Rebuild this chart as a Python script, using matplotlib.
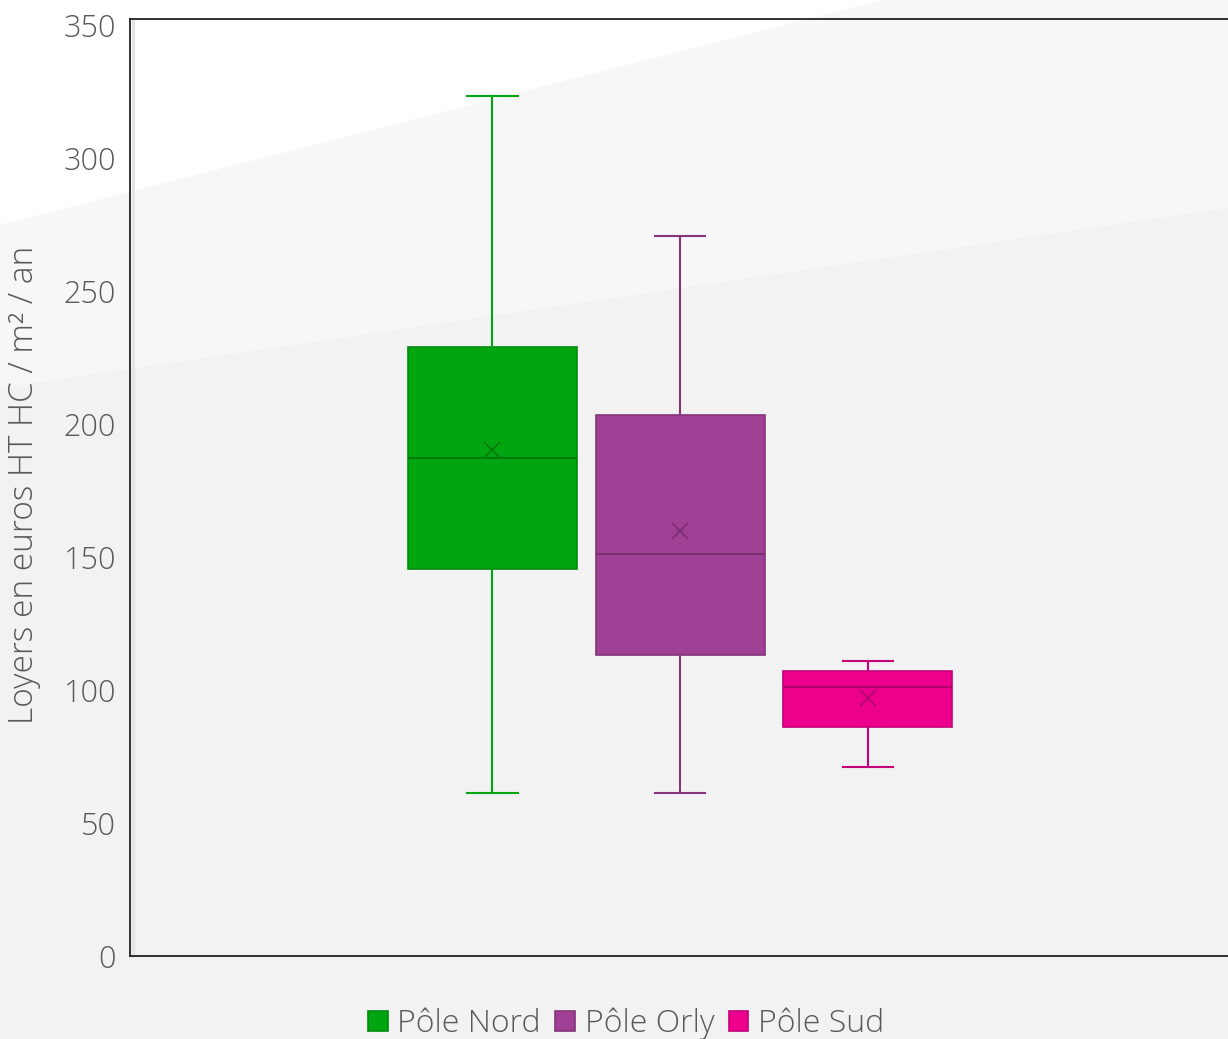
import matplotlib
matplotlib.use("Agg")
import matplotlib.pyplot as plt
from matplotlib.patches import Polygon, Patch
from matplotlib.lines import Line2D

# Summary statistics per site (euros HT HC / m² / an)
SITES = ["Pôle Nord", "Pôle Orly", "Pôle Sud"]
WHISKER_LOW = [61.3, 61.3, 71]
Q1 = [145.5, 113.2, 86.1]
MEDIAN = [187.2, 151.1, 101.1]
MEAN = [190.2, 159.8, 97]
Q3 = [229, 203.4, 107.1]
WHISKER_HIGH = [323.3, 270.7, 110.9]

FILL = ["#00a50f", "#a04095", "#ec008c"]
EDGE = ["#008a0c", "#84357b", "#c4007a"]
DARK = ["#007a0a", "#7a2f70", "#b0006c"]

Y_TICKS = [0, 50, 100, 150, 200, 250, 300, 350]
Y_LABEL = "Loyers en euros HT HC / m² / an"

plt.rcParams["font.family"] = ["Open Sans", "DejaVu Sans"]

fig = plt.figure(figsize=(12.28, 10.39), dpi=100)
fig.patch.set_facecolor("#f2f2f2")

# light diagonal bands behind the plot
W, H = 1228, 1039
def px(x, y):
    return (x / W, 1 - y / H)

fig.add_artist(Polygon([px(0, 388), px(1228, 208), px(1228, 0), px(0, 0)],
                       closed=True, transform=fig.transFigure,
                       facecolor="#f7f7f7", edgecolor="none", zorder=-2))
fig.add_artist(Polygon([px(0, 225), px(882, 0), px(0, 0)],
                       closed=True, transform=fig.transFigure,
                       facecolor="#ffffff", edgecolor="none", zorder=-1))

ax = fig.add_axes([130 / W, 83 / H, 1.01 - 130 / W, 937 / H])
ax.set_facecolor("none")

stats = []
for i, name in enumerate(SITES):
    stats.append(dict(label=name, whislo=WHISKER_LOW[i], q1=Q1[i], med=MEDIAN[i],
                      mean=MEAN[i], q3=Q3[i], whishi=WHISKER_HIGH[i], fliers=[]))

positions = [1, 2, 3]
for i, st in enumerate(stats):
    ax.bxp([st], positions=[positions[i]], widths=0.9, capwidths=0.27,
           patch_artist=True, showmeans=True, showfliers=False,
           boxprops=dict(facecolor=FILL[i], edgecolor=EDGE[i], linewidth=1.2),
           whiskerprops=dict(color=FILL[i] if i == 0 else EDGE[i], linewidth=1.5),
           capprops=dict(color=FILL[i] if i == 0 else EDGE[i], linewidth=1.5),
           medianprops=dict(color=DARK[i], linewidth=1.5),
           meanprops=dict(marker="x", markersize=12, markeredgecolor=DARK[i],
                          markeredgewidth=1.2))

ax.set_xlim(1 - 361 / 187, 1 + 745 / 187)
ax.set_ylim(0, 352.3)
ax.set_yticks(Y_TICKS)
ax.set_yticklabels([str(t) for t in Y_TICKS], fontweight="light")
ax.set_xticks([])
ax.tick_params(axis="y", length=0, pad=10, labelsize=22, labelcolor="#595959")

for side in ["left", "bottom", "top"]:
    ax.spines[side].set_color("#222222")
    ax.spines[side].set_linewidth(1.3)
ax.spines["right"].set_visible(False)

# soft shadow along the left axis
fig.add_artist(Line2D([133 / W, 133 / W], [83 / H, 1 - 20 / H],
                      transform=fig.transFigure, color="#e4e4e4", linewidth=2.2,
                      zorder=-0.5))

ax.set_ylabel(Y_LABEL, fontsize=24, color="#595959", fontweight="light")
ax.yaxis.set_label_coords(-0.08, 0.503)

handles = [Patch(facecolor=FILL[i], edgecolor=EDGE[i], linewidth=1.2) for i in range(3)]
fig.legend(handles, SITES, loc="center", bbox_to_anchor=(626 / W, 1 - 1024 / H),
           ncol=3, frameon=False, labelcolor="#595959",
           prop=dict(weight="light", size=23),
           handlelength=0.62, handleheight=0.62, handletextpad=0.3,
           columnspacing=0.45, borderpad=0)

fig.savefig("out.png", dpi=100, facecolor=fig.get_facecolor())
